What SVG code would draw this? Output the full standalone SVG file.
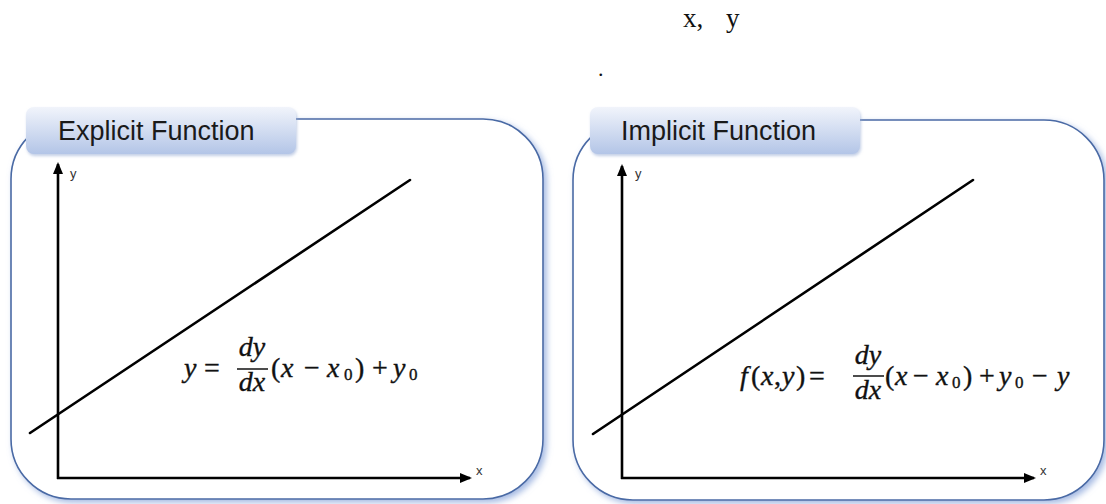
<svg xmlns="http://www.w3.org/2000/svg" width="1106" height="504" viewBox="0 0 1106 504">
<style>
.box{fill:#fff;stroke:#4a6aa5;stroke-width:1.6;filter:url(#sh)}
.tab{fill:url(#tg);filter:url(#sh2)}
.title{font-family:"Liberation Sans",Arial,sans-serif;font-size:27px;fill:#1a1a1a}
.ax{stroke:#000;stroke-width:2.6;fill:none}
.ln{stroke:#000;stroke-width:2.6;fill:none;stroke-linecap:round}
.al{font-family:"Liberation Sans",Arial,sans-serif;font-size:13px;fill:#333}
.m{font-family:"Liberation Serif","Times New Roman",serif;font-size:28px;fill:#111;stroke:#111;stroke-width:0.35}
.i{font-style:italic}
.s{font-size:17px}
.top{font-family:"Liberation Serif","Times New Roman",serif;font-size:27px;fill:#111}
</style>
<defs>
<linearGradient id="tg" x1="0" y1="0" x2="0" y2="1">
<stop offset="0" stop-color="#f1f4fb"/>
<stop offset="1" stop-color="#b3c5e7"/>
</linearGradient>
<filter id="sh" x="-5%" y="-5%" width="112%" height="115%">
<feDropShadow dx="3" dy="3" stdDeviation="3" flood-color="#8ea8db" flood-opacity="0.8"/>
</filter>
<filter id="sh2" x="-5%" y="-20%" width="110%" height="150%">
<feDropShadow dx="1" dy="2" stdDeviation="1.5" flood-color="#9aaed6" flood-opacity="0.6"/>
</filter>
<marker id="ah" markerWidth="12" markerHeight="10" refX="10" refY="5" orient="auto" markerUnits="userSpaceOnUse">
<path d="M0,0 L12,5 L0,10 z" fill="#000"/>
</marker>
</defs>

<g id="header">
<text class="top" x="683" y="27">x,</text>
<text class="top" x="726" y="27">y</text>
<text class="top" x="598" y="76" style="font-size:22px">.</text>
</g>

<g id="explicit">
<rect class="box" x="11" y="119" width="532" height="380" rx="60" ry="60"/>
<rect class="tab" x="26" y="107" width="270" height="47" rx="8" ry="8"/>
<text class="title" x="58" y="140">Explicit Function</text>
<g id="explicit-axes">
<line class="ax" x1="58" y1="479" x2="58" y2="164" marker-end="url(#ah)"/>
<line class="ax" x1="57" y1="478" x2="470" y2="478" marker-end="url(#ah)"/>
<line class="ln" x1="30" y1="433" x2="410" y2="180"/>
<text class="al" x="70" y="178">y</text>
<text class="al" x="476" y="475">x</text>
</g>
<g id="explicit-eq">
<text class="m i" x="184" y="377">y</text>
<text class="m" x="204" y="377">=</text>
<text class="m i" x="252" y="356" text-anchor="middle">dy</text>
<line x1="237" y1="369" x2="268" y2="369" stroke="#111" stroke-width="1.5"/>
<text class="m i" x="252" y="391" text-anchor="middle">dx</text>
<text class="m" x="271" y="377">(</text>
<text class="m i" x="281" y="377">x</text>
<text class="m" x="304" y="377">−</text>
<text class="m i" x="327" y="377">x</text>
<text class="m s" x="344" y="380">0</text>
<text class="m" x="355" y="377">)</text>
<text class="m" x="372" y="377">+</text>
<text class="m i" x="393" y="377">y</text>
<text class="m s" x="409" y="380">0</text>
</g>
</g>

<g id="implicit">
<rect class="box" x="573" y="120" width="531" height="380" rx="60" ry="60"/>
<rect class="tab" x="590" y="107" width="270" height="47" rx="8" ry="8"/>
<text class="title" x="621" y="140">Implicit Function</text>
<g id="implicit-axes">
<line class="ax" x1="622" y1="479" x2="622" y2="166" marker-end="url(#ah)"/>
<line class="ax" x1="621" y1="478" x2="1034" y2="478" marker-end="url(#ah)"/>
<line class="ln" x1="593" y1="434" x2="973" y2="180"/>
<text class="al" x="635" y="178">y</text>
<text class="al" x="1040" y="475">x</text>
</g>
<g id="implicit-eq">
<text class="m i" x="740" y="385">f</text>
<text class="m" x="751" y="385">(</text>
<text class="m i" x="761" y="385">x</text>
<text class="m" x="774" y="385">,</text>
<text class="m i" x="782" y="385">y</text>
<text class="m" x="796" y="385">)</text>
<text class="m" x="809" y="385">=</text>
<text class="m i" x="868" y="364" text-anchor="middle">dy</text>
<line x1="853" y1="376" x2="884" y2="376" stroke="#111" stroke-width="1.5"/>
<text class="m i" x="868" y="399" text-anchor="middle">dx</text>
<text class="m" x="885" y="385">(</text>
<text class="m i" x="895" y="385">x</text>
<text class="m" x="913" y="385">−</text>
<text class="m i" x="936" y="385">x</text>
<text class="m s" x="952" y="388">0</text>
<text class="m" x="963" y="385">)</text>
<text class="m" x="979" y="385">+</text>
<text class="m i" x="999" y="385">y</text>
<text class="m s" x="1015" y="388">0</text>
<text class="m" x="1032" y="385">−</text>
<text class="m i" x="1057" y="385">y</text>
</g>
</g>
</svg>
